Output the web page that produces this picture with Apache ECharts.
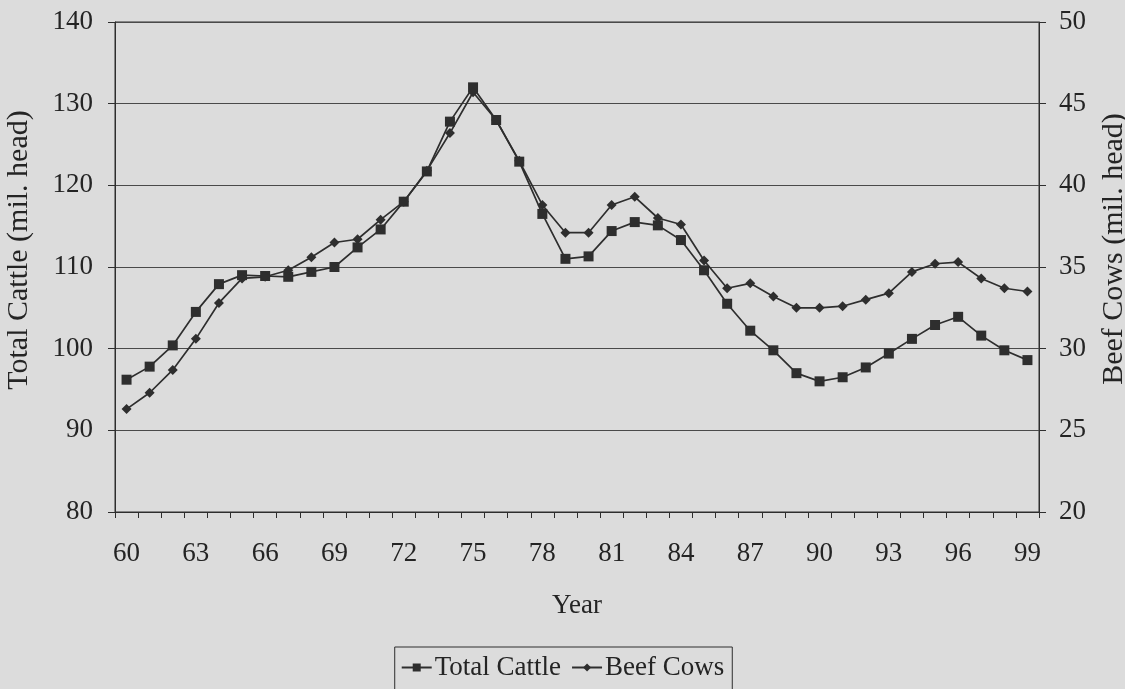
<!DOCTYPE html>
<html>
<head>
<meta charset="utf-8">
<script src="https://cdn.jsdelivr.net/npm/echarts@6/dist/echarts.min.js"></script>
<style>
  html, body { margin: 0; padding: 0; background: #dcdcdc; }
  #chart { width: 1125px; height: 689px; }
</style>
</head>
<body>
<div id="chart"></div>
<script>
// Years 1960-1999, shown as two-digit labels
const years = ['60','61','62','63','64','65','66','67','68','69',
               '70','71','72','73','74','75','76','77','78','79',
               '80','81','82','83','84','85','86','87','88','89',
               '90','91','92','93','94','95','96','97','98','99'];

// Total cattle inventory, million head (left axis)
const totalCattle = [96.2, 97.8, 100.4, 104.5, 107.9, 109.0, 108.9, 108.8, 109.4, 110.0,
                     112.4, 114.6, 118.0, 121.7, 127.8, 132.0, 128.0, 122.9, 116.5, 111.0,
                     111.3, 114.4, 115.5, 115.1, 113.3, 109.6, 105.5, 102.2, 99.8, 97.0,
                     96.0, 96.5, 97.7, 99.4, 101.2, 102.9, 103.9, 101.6, 99.8, 98.6];

// Beef cow inventory, million head (right axis)
const beefCows = [26.3, 27.3, 28.7, 30.6, 32.8, 34.3, 34.4, 34.8, 35.6, 36.5,
                  36.7, 37.9, 39.0, 40.9, 43.2, 45.7, 44.0, 41.5, 38.8, 37.1,
                  37.1, 38.8, 39.3, 38.0, 37.6, 35.4, 33.7, 34.0, 33.2, 32.5,
                  32.5, 32.6, 33.0, 33.4, 34.7, 35.2, 35.3, 34.3, 33.7, 33.5];

const ink = '#2e2e2e';
const textInk = '#242424';
const font = 'Liberation Serif';
const labelSize = 27;
const nameSize = 30;

const chart = echarts.init(document.getElementById('chart'));
chart.setOption({
  backgroundColor: '#dcdcdc',
  animation: false,
  textStyle: { fontFamily: font, color: textInk },
  grid: { left: 115, right: 86, top: 22, bottom: 177, show: true,
          containLabel: false, outerBoundsMode: 'none',
          borderColor: ink, borderWidth: 1, backgroundColor: 'transparent' },
  legend: {
    top: 647,
    left: 'center',
    data: ['Total Cattle', 'Beef Cows'],
    borderColor: ink,
    borderWidth: 1,
    padding: [7, 8, 9, 6],
    itemGap: 10,
    itemWidth: 30,
    itemHeight: 10,
    textStyle: { fontFamily: font, fontSize: labelSize, color: textInk, padding: [0, 0, 0, -2] }
  },
  xAxis: {
    type: 'category',
    data: years,
    boundaryGap: true,
    name: 'Year',
    nameLocation: 'middle',
    nameGap: 80,
    nameTextStyle: { fontFamily: font, fontSize: labelSize, color: textInk },
    axisLine: { lineStyle: { color: ink, width: 1 } },
    axisTick: { show: true, interval: 0, length: 6, lineStyle: { color: ink } },
    axisLabel: { interval: 2, margin: 28, fontFamily: font, fontSize: labelSize, color: textInk },
    splitLine: { show: false }
  },
  yAxis: [
    {
      type: 'value',
      min: 80, max: 140, interval: 10,
      name: 'Total Cattle (mil. head)',
      nameLocation: 'middle',
      nameGap: 81,
      nameTextStyle: { fontFamily: font, fontSize: nameSize, color: textInk, padding: [0, 0, 0, 34] },
      axisLine: { show: true, lineStyle: { color: ink } },
      axisTick: { show: true, length: 7, lineStyle: { color: ink } },
      axisLabel: { margin: 22, fontFamily: font, fontSize: labelSize, color: textInk },
      splitLine: { show: true, lineStyle: { color: '#4a4a4a', width: 1 } }
    },
    {
      type: 'value',
      min: 20, max: 50, interval: 5,
      name: 'Beef Cows (mil. head)',
      nameLocation: 'middle',
      nameGap: 60,
      nameTextStyle: { fontFamily: font, fontSize: nameSize, color: textInk, padding: [0, 0, 0, 36] },
      axisLine: { show: true, lineStyle: { color: ink } },
      axisTick: { show: true, length: 7, lineStyle: { color: ink } },
      axisLabel: { margin: 20, fontFamily: font, fontSize: labelSize, color: textInk },
      splitLine: { show: false }
    }
  ],
  series: [
    {
      name: 'Total Cattle',
      type: 'line',
      yAxisIndex: 0,
      data: totalCattle,
      symbol: 'rect',
      symbolSize: 10,
      lineStyle: { color: ink, width: 1.7 },
      itemStyle: { color: ink, borderWidth: 0 },
      z: 3
    },
    {
      name: 'Beef Cows',
      type: 'line',
      yAxisIndex: 1,
      data: beefCows,
      symbol: 'diamond',
      symbolSize: 10,
      lineStyle: { color: ink, width: 1.7 },
      itemStyle: { color: ink, borderWidth: 0 },
      z: 4
    }
  ]
});
</script>
</body>
</html>
